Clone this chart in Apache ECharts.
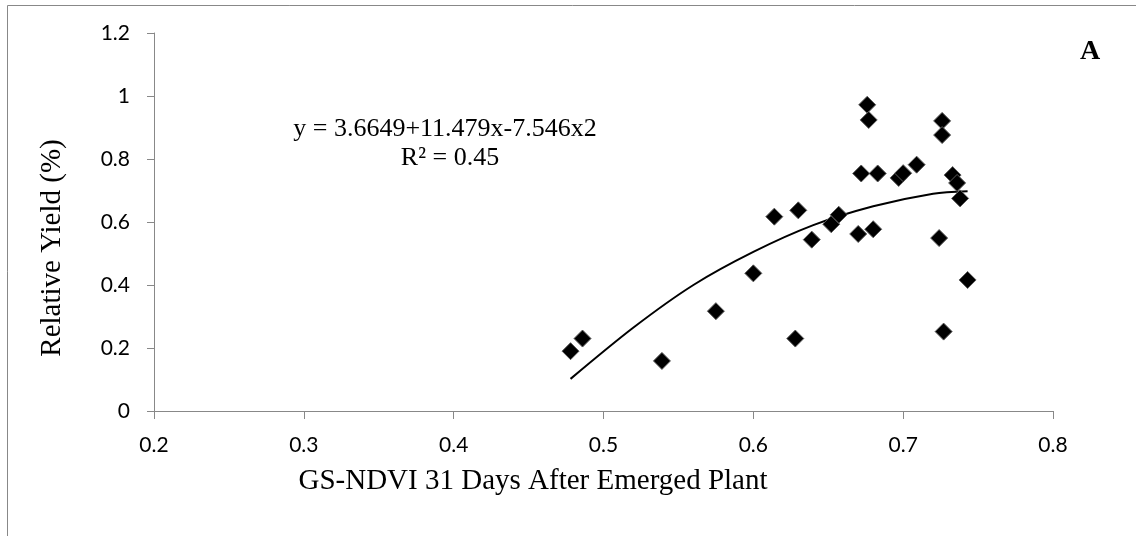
<!DOCTYPE html>
<html>
<head>
<meta charset="utf-8">
<script src="https://cdn.jsdelivr.net/npm/echarts@6/dist/echarts.min.js"></script>
<style>html,body{margin:0;padding:0;background:#fff;}#c{width:1136px;height:536px;}</style>
</head>
<body>
<div id="c"></div>
<script>
// Observed points: GS-NDVI (x) and relative yield (y)
const ndvi = [0.478,0.486,0.539,0.575,0.600,0.614,0.628,0.630,0.639,0.652,0.657,0.670,0.680,0.672,0.683,0.697,0.700,0.709,0.724,0.727,0.733,0.736,0.738,0.743,0.676,0.677,0.726,0.726];
const yieldRel = [0.190,0.230,0.159,0.317,0.437,0.617,0.230,0.637,0.544,0.593,0.623,0.562,0.577,0.754,0.754,0.740,0.755,0.782,0.549,0.252,0.749,0.724,0.675,0.416,0.972,0.924,0.921,0.876];
// Trendline
const trendX = [0.478,0.52,0.56,0.60,0.64,0.68,0.72,0.743];
const trendY = [0.102,0.265,0.400,0.505,0.590,0.650,0.690,0.698];
const xTicks = [0.2,0.3,0.4,0.5,0.6,0.7,0.8];
const yTicks = [0,0.2,0.4,0.6,0.8,1,1.2];
const equationText = 'y = 3.6649+11.479x-7.546x2';
const r2Text = 'R\u00B2 = 0.45';
const xTitle = 'GS-NDVI 31 Days After Emerged Plant';
const yTitle = 'Relative Yield (%)';
const panelLabel = 'A';

const pts = ndvi.map((v,i)=>[v, yieldRel[i]]);
const trend = trendX.map((v,i)=>[v, trendY[i]]);
const serif = '"Liberation Serif","Times New Roman",serif';
const sans = 'Lato, "Open Sans", sans-serif';

const chart = echarts.init(document.getElementById('c'), null, {renderer:'canvas'});
chart.setOption({
  backgroundColor:'#fff',
  animation:false,
  grid:{left:154, right:83, top:33, bottom:125},
  xAxis:{type:'value', min:xTicks[0], max:xTicks[xTicks.length-1], interval:0.1,
    axisLine:{show:true, lineStyle:{color:'#888', width:1}},
    axisTick:{show:true, length:8, lineStyle:{color:'#888'}},
    splitLine:{show:false},
    axisLabel:{color:'#000', fontFamily:sans, fontSize:21, margin:24,
      formatter:v=>String(+(+v).toFixed(1))}},
  yAxis:{type:'value', min:yTicks[0], max:yTicks[yTicks.length-1], interval:0.2,
    axisLine:{show:true, lineStyle:{color:'#888', width:1}},
    axisTick:{show:true, length:7, lineStyle:{color:'#888'}},
    splitLine:{show:false},
    axisLabel:{color:'#000', fontFamily:sans, fontSize:21, margin:24,
      formatter:v=>String(+(+v).toFixed(1))}},
  series:[
    {type:'line', data:trend, smooth:0.3, showSymbol:false, symbol:'none',
     lineStyle:{color:'#000', width:2}, z:2, silent:true},
    {type:'scatter', data:pts, symbol:'diamond', symbolSize:17,
     itemStyle:{color:'#000', borderColor:'#5c5c5c', borderWidth:1, opacity:1}, z:3}
  ],
  graphic:[
    {type:'rect', shape:{x:7.5, y:5.5, width:1300, height:700}, style:{fill:'none', stroke:'#888', lineWidth:1}, z:-1},
    {type:'text', x:445, y:129, style:{text:equationText, font:'26px '+serif, fill:'#000', textAlign:'center', textVerticalAlign:'middle'}},
    {type:'text', x:450, y:158, style:{text:r2Text, font:'26px '+serif, fill:'#000', textAlign:'center', textVerticalAlign:'middle'}},
    {type:'text', x:533, y:481, style:{text:xTitle, font:'29px '+serif, fill:'#000', textAlign:'center', textVerticalAlign:'middle'}},
    {type:'text', x:52, y:248, rotation:Math.PI/2, style:{text:yTitle, font:'29px '+serif, fill:'#000', textAlign:'center', textVerticalAlign:'middle'}},
    {type:'text', x:1090, y:52, style:{text:panelLabel, font:'bold 28px '+serif, fill:'#000', textAlign:'center', textVerticalAlign:'middle'}}
  ]
});
</script>
</body>
</html>
